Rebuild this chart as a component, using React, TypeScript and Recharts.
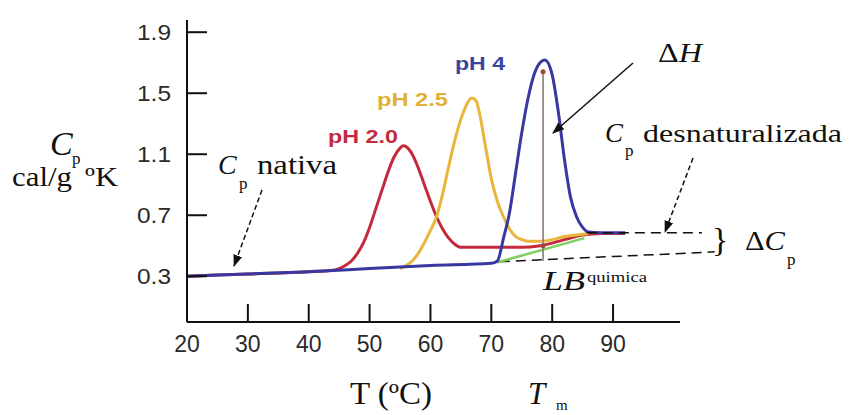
import React from 'react';
import { LineChart, Line, XAxis, YAxis, ReferenceLine, ReferenceDot } from 'recharts';

// Axis ticks
const xTicks = [20, 30, 40, 50, 60, 70, 80, 90];
const yTicks = [0.3, 0.7, 1.1, 1.5, 1.9];

// pH 2.0 (red)
const redT = [20, 30, 40, 44, 45, 46, 47, 48, 49, 50, 51, 52, 53, 54, 55, 55.5, 56, 57, 58, 59, 60, 61, 62, 63, 64, 65, 70, 75, 78, 82, 85, 88, 92];
const redCp = [0.30, 0.315, 0.33, 0.34, 0.35, 0.37, 0.40, 0.45, 0.52, 0.62, 0.74, 0.86, 0.98, 1.08, 1.14, 1.156, 1.15, 1.10, 1.01, 0.90, 0.79, 0.69, 0.61, 0.55, 0.51, 0.49, 0.49, 0.49, 0.50, 0.54, 0.57, 0.58, 0.58];

// pH 2.5 (orange)
const orangeT = [55, 56, 57, 58, 59, 60, 61, 62, 63, 64, 65, 66, 66.8, 67.5, 68, 69, 70, 71, 72, 73, 74, 75, 76, 78, 80, 82, 84, 86];
const orangeCp = [0.35, 0.37, 0.40, 0.45, 0.52, 0.60, 0.69, 0.84, 1.02, 1.19, 1.33, 1.43, 1.468, 1.45, 1.38, 1.16, 0.94, 0.79, 0.69, 0.61, 0.56, 0.54, 0.53, 0.53, 0.54, 0.56, 0.57, 0.58];

// pH 4 (blue)
const blueT = [20, 30, 40, 50, 60, 70, 71, 72, 73, 74, 75, 76, 77, 78, 78.8, 80, 81, 82, 83, 84, 85, 86, 88, 92];
const blueCp = [0.30, 0.315, 0.33, 0.35, 0.37, 0.385, 0.40, 0.55, 0.72, 0.98, 1.24, 1.46, 1.62, 1.70, 1.717, 1.62, 1.38, 1.07, 0.82, 0.69, 0.62, 0.59, 0.585, 0.585];

// Chemical baseline (green)
const lbT = [70.9, 85.3];
const lbCp = [0.39, 0.55];

// Denatured / native baseline extensions (dashed)
const upperDashT = [85.7, 104.6];
const upperDashCp = [0.585, 0.585];
const lowerDashT = [71.4, 106.7];
const lowerDashCp = [0.395, 0.46];

// Tm marker
const tmT = 78.5;
const tmCp = [0.40, 1.64];

const toPts = (ts: number[], vs: number[]) => ts.map((t, i) => ({ t, cp: vs[i] }));

const SANS = "'Liberation Sans', Arial, sans-serif";
const SERIF = "'Liberation Serif', 'Times New Roman', serif";

const XTick = (props: any) => {
  const { x, y, payload } = props;
  const v = payload.value;
  return (
    <g>
      {v !== 20 && <line x1={x} y1={y} x2={x} y2={y - 18} stroke="#111" strokeWidth={2} />}
      <text x={x} y={y + 30} textAnchor="middle" fontFamily={SANS} fontSize={23} fill="#2a2a2a">
        {v}
      </text>
    </g>
  );
};

const YTick = (props: any) => {
  const { x, y, payload } = props;
  const v = payload.value as number;
  return (
    <g>
      <line x1={x} y1={y} x2={x + 20} y2={y} stroke="#111" strokeWidth={2} />
      <text
        x={x - 16}
        y={y + 8}
        textAnchor="end"
        fontFamily={SANS}
        fontSize={22}
        fill="#2a2a2a"
        textLength={34}
        lengthAdjust="spacingAndGlyphs"
      >
        {v.toFixed(1)}
      </text>
    </g>
  );
};

export default function App() {
  return (
    <div style={{ position: 'absolute', left: 0, top: 0, width: 850, height: 415, background: '#fff' }}>
      <LineChart width={850} height={415} margin={{ top: 20, right: 170, bottom: 63, left: 127 }}>
        <XAxis
          dataKey="t"
          type="number"
          domain={[20, 101]}
          ticks={xTicks}
          interval={0}
          allowDataOverflow
          tickLine={false}
          tickSize={0}
          tickMargin={0}
          tick={(p: any) => <XTick {...p} />}
          axisLine={{ stroke: '#111', strokeWidth: 2 }}
        />
        <YAxis
          type="number"
          domain={[0, 1.98]}
          ticks={yTicks}
          interval={0}
          allowDataOverflow
          width={60}
          tickLine={false}
          tickSize={0}
          tickMargin={0}
          tick={(p: any) => <YTick {...p} />}
          axisLine={{ stroke: '#111', strokeWidth: 2 }}
        />
        <ReferenceLine
          segment={[{ x: lowerDashT[0], y: lowerDashCp[0] }, { x: lowerDashT[1], y: lowerDashCp[1] }]}
          stroke="#111"
          strokeWidth={1.5}
          strokeDasharray="10 6"
          ifOverflow="visible"
        />
        <Line data={toPts(lbT, lbCp)} dataKey="cp" type="linear" stroke="#7fd060" strokeWidth={2.5} dot={false} isAnimationActive={false} />
        <Line data={toPts(redT, redCp)} dataKey="cp" type="monotone" stroke="#c42a3c" strokeWidth={3} dot={false} isAnimationActive={false} />
        <Line data={toPts(orangeT, orangeCp)} dataKey="cp" type="monotone" stroke="#e8b63a" strokeWidth={3} dot={false} isAnimationActive={false} />
        <Line data={toPts(blueT, blueCp)} dataKey="cp" type="monotone" stroke="#3838a0" strokeWidth={3} dot={false} isAnimationActive={false} />
        <ReferenceLine
          segment={[{ x: upperDashT[0], y: upperDashCp[0] }, { x: upperDashT[1], y: upperDashCp[1] }]}
          stroke="#111"
          strokeWidth={1.5}
          strokeDasharray="10 6"
          ifOverflow="visible"
        />
        <ReferenceLine
          segment={[{ x: tmT, y: tmCp[0] }, { x: tmT, y: tmCp[1] }]}
          stroke="#8a7070"
          strokeWidth={1.5}
          ifOverflow="visible"
        />
        <ReferenceDot x={tmT} y={tmCp[1]} r={2.5} fill="#9a4a3a" stroke="none" />
        <ReferenceDot x={tmT} y={0.5} r={2.5} fill="#9a4a3a" stroke="none" />
      </LineChart>
      <svg width={850} height={415} style={{ position: 'absolute', left: 0, top: 0, pointerEvents: 'none' }}>
        <defs>
          <marker id="ah" viewBox="0 0 12 10" refX="11" refY="5" markerWidth="12" markerHeight="10" markerUnits="userSpaceOnUse" orient="auto">
            <path d="M0,0.5 L12,5 L0,9.5 z" fill="#111" />
          </marker>
        </defs>
        {/* Y axis title */}
        <text x={50} y={155} fontFamily={SERIF} fontStyle="italic" fontSize={34} fill="#111">C</text>
        <text x={72} y={164} fontFamily={SERIF} fontSize={17} fill="#111">p</text>
        <text x={12} y={186} fontFamily={SERIF} fontSize={27} fill="#111" textLength={60} lengthAdjust="spacingAndGlyphs">cal/g</text>
        <text x={85} y={186} fontFamily={SERIF} fontSize={27} fill="#111" textLength={33} lengthAdjust="spacingAndGlyphs">ºK</text>

        {/* Cp nativa */}
        <text x={218} y={174} fontFamily={SERIF} fontStyle="italic" fontSize={28} fill="#111">C</text>
        <text x={239} y={189} fontFamily={SERIF} fontSize={17} fill="#111">p</text>
        <text x={257} y={174} fontFamily={SERIF} fontSize={28} fill="#111" textLength={80} lengthAdjust="spacingAndGlyphs">nativa</text>
        <line x1={262} y1={190} x2={234} y2={266} stroke="#111" strokeWidth={1.5} strokeDasharray="5 3" markerEnd="url(#ah)" />

        {/* pH labels */}
        <text x={328} y={143} fontFamily={SANS} fontWeight="bold" fontSize={19} fill="#c42a3c" textLength={70} lengthAdjust="spacingAndGlyphs">pH 2.0</text>
        <text x={377} y={106} fontFamily={SANS} fontWeight="bold" fontSize={19} fill="#e0b034" textLength={71} lengthAdjust="spacingAndGlyphs">pH 2.5</text>
        <text x={455} y={70} fontFamily={SANS} fontWeight="bold" fontSize={19} fill="#3a44a0" textLength={50} lengthAdjust="spacingAndGlyphs">pH 4</text>

        {/* Delta H */}
        <text x={658} y={62} fontFamily={SERIF} fontSize={27} fill="#111" textLength={44} lengthAdjust="spacingAndGlyphs">
          <tspan>Δ</tspan>
          <tspan fontStyle="italic">H</tspan>
        </text>
        <line x1={633} y1={63} x2={553} y2={133} stroke="#111" strokeWidth={1.5} markerEnd="url(#ah)" />

        {/* Cp desnaturalizada */}
        <text x={605} y={142} fontFamily={SERIF} fontStyle="italic" fontSize={27} fill="#111">C</text>
        <text x={625} y={156} fontFamily={SERIF} fontSize={17} fill="#111">p</text>
        <text x={643} y={142} fontFamily={SERIF} fontSize={26} fill="#111" textLength={199} lengthAdjust="spacingAndGlyphs">desnaturalizada</text>
        <line x1={693} y1={158} x2={665} y2={232} stroke="#111" strokeWidth={1.5} strokeDasharray="5 3" markerEnd="url(#ah)" />

        {/* Delta Cp with brace */}
        <text x={712} y={251} fontFamily={SERIF} fontSize={34} fill="#111">{'}'}</text>
        <text x={745} y={250} fontFamily={SERIF} fontSize={27} fill="#111" textLength={40} lengthAdjust="spacingAndGlyphs">
          <tspan>Δ</tspan>
          <tspan fontStyle="italic">C</tspan>
        </text>
        <text x={787} y={265} fontFamily={SERIF} fontSize={17} fill="#111">p</text>

        {/* LB quimica */}
        <text x={543} y={290} fontFamily={SERIF} fontStyle="italic" fontSize={27} fill="#111" textLength={42} lengthAdjust="spacingAndGlyphs">LB</text>
        <text x={587} y={282} fontFamily={SERIF} fontSize={15} fill="#111" textLength={60} lengthAdjust="spacingAndGlyphs">quimica</text>

        {/* X axis title and Tm */}
        <text x={350} y={404} fontFamily={SERIF} fontSize={31} fill="#111" textLength={82} lengthAdjust="spacingAndGlyphs">T (ºC)</text>
        <text x={528} y={404} fontFamily={SERIF} fontStyle="italic" fontSize={31} fill="#111">T</text>
        <text x={556} y={410} fontFamily={SERIF} fontSize={15} fill="#111">m</text>
      </svg>
    </div>
  );
}
